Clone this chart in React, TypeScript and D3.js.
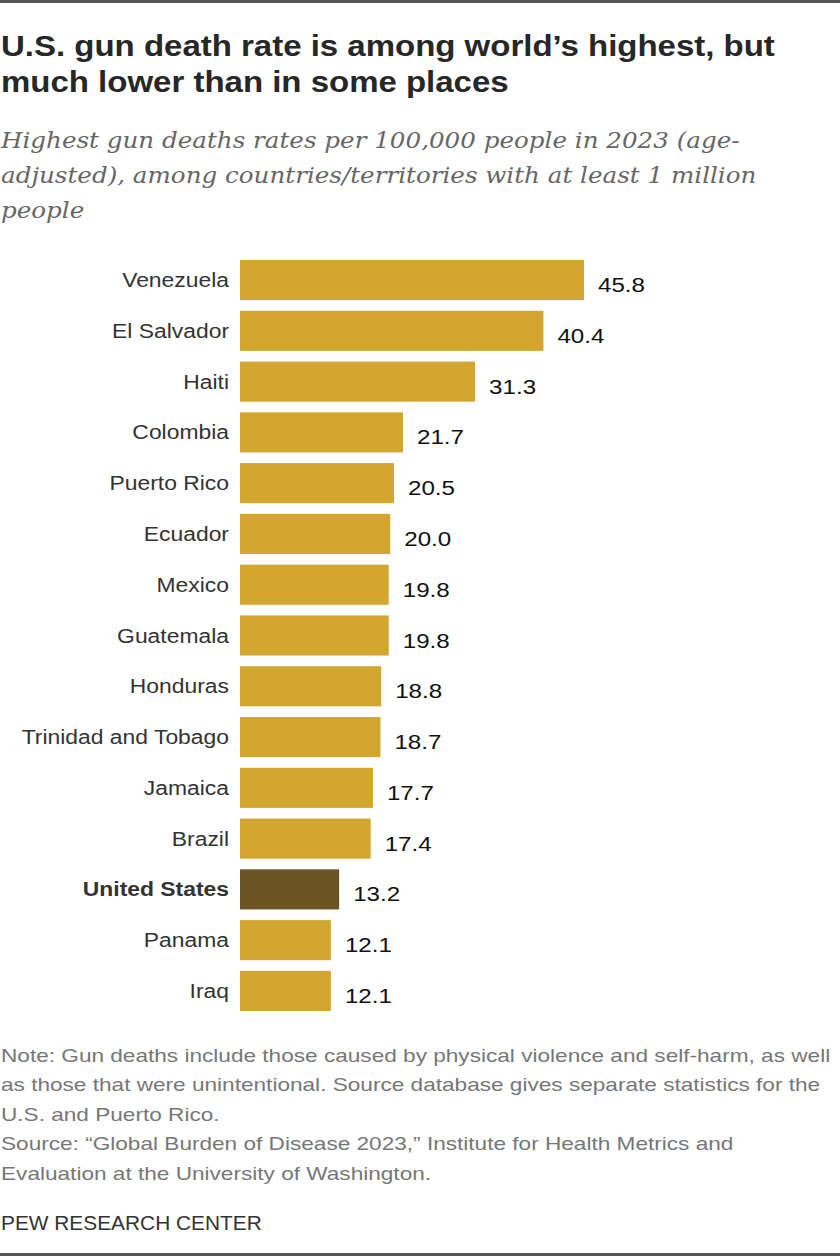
import React, { useEffect, useRef } from 'react';
import * as d3 from 'd3';

const countries = [
  'Venezuela', 'El Salvador', 'Haiti', 'Colombia', 'Puerto Rico', 'Ecuador', 'Mexico',
  'Guatemala', 'Honduras', 'Trinidad and Tobago', 'Jamaica', 'Brazil', 'United States',
  'Panama', 'Iraq',
];
const rates = [45.8, 40.4, 31.3, 21.7, 20.5, 20.0, 19.8, 19.8, 18.8, 18.7, 17.7, 17.4, 13.2, 12.1, 12.1];
const highlight = 'United States';

const titleLines = [
  'U.S. gun death rate is among world\u2019s highest, but',
  'much lower than in some places',
];
const subtitleLines = [
  'Highest gun deaths rates per 100,000 people in 2023 (age-',
  'adjusted), among countries/territories with at least 1 million',
  'people',
];
const noteLines = [
  'Note: Gun deaths include those caused by physical violence and self-harm, as well',
  'as those that were unintentional. Source database gives separate statistics for the',
  'U.S. and Puerto Rico.',
  'Source: \u201cGlobal Burden of Disease 2023,\u201d Institute for Health Metrics and',
  'Evaluation at the University of Washington.',
];

const W = 840;
const H = 1256;
const SANS = '"Liberation Sans", Arial, sans-serif';

const App = () => {
  const svgRef = useRef<SVGSVGElement>(null);

  useEffect(() => {
    const svg = d3.select(svgRef.current);
    svg.selectAll('*').remove();

    // frame lines top and bottom
    svg.append('rect').attr('x', 0).attr('y', 0).attr('width', W).attr('height', 3).attr('fill', '#555');
    svg.append('rect').attr('x', 0).attr('y', H - 3).attr('width', W).attr('height', 3).attr('fill', '#555');

    // the original fonts are wider than Liberation, so texts get stretched a bit
    svg.append('g')
      .attr('transform', 'translate(1,0) scale(1.1,1)')
      .selectAll('text')
      .data(titleLines)
      .enter().append('text')
      .attr('x', 0)
      .attr('y', (d, i) => 56 + i * 36)
      .attr('font-family', SANS)
      .attr('font-weight', 'bold')
      .attr('font-size', 30)
      .attr('fill', '#272727')
      .text(d => d);

    svg.append('g')
      .attr('transform', 'translate(1,0) scale(1.07,1)')
      .selectAll('text')
      .data(subtitleLines)
      .enter().append('text')
      .attr('x', 0)
      .attr('y', (d, i) => 148 + i * 35)
      .attr('font-family', '"DejaVu Serif", Georgia, serif')
      .attr('font-style', 'italic')
      .attr('font-size', 23)
      .attr('fill', '#666')
      .text(d => d);

    const x = d3.scaleLinear().domain([0, 45.8]).range([240, 584]);
    const y = d3.scaleBand<string>()
      .domain(countries)
      .range([260, 1011])
      .paddingInner(0.21)
      .paddingOuter(0);

    const rows = svg.append('g')
      .selectAll('g')
      .data(countries.map((c, i) => ({ c, v: rates[i] })))
      .enter().append('g');

    rows.append('rect')
      .attr('x', x(0))
      .attr('y', d => y(d.c)!)
      .attr('width', d => x(d.v) - x(0))
      .attr('height', y.bandwidth())
      .attr('fill', d => (d.c === highlight ? '#6b5323' : '#d2a62f'));

    rows.append('text')
      .attr('transform', d => `translate(229,${y(d.c)! + y.bandwidth() / 2 + 7}) scale(1.09,1)`)
      .attr('text-anchor', 'end')
      .attr('font-family', SANS)
      .attr('font-size', 21)
      .attr('font-weight', d => (d.c === highlight ? 'bold' : 'normal'))
      .attr('fill', '#333')
      .text(d => d.c);

    rows.append('text')
      .attr('transform', d => `translate(${x(d.v) + 14},${y(d.c)! + y.bandwidth() / 2 + 12}) scale(1.15,1)`)
      .attr('font-family', SANS)
      .attr('font-size', 21)
      .attr('fill', '#111')
      .text(d => d.v.toFixed(1));

    svg.append('g')
      .attr('transform', 'translate(1,0) scale(1.19,1)')
      .selectAll('text')
      .data(noteLines)
      .enter().append('text')
      .attr('x', 0)
      .attr('y', (d, i) => 1062 + i * 29.5)
      .attr('font-family', SANS)
      .attr('font-size', 19)
      .attr('fill', '#777')
      .text(d => d);

    svg.append('text')
      .attr('transform', 'translate(1,1230) scale(1.07,1)')
      .attr('font-family', SANS)
      .attr('font-size', 19.5)
      .attr('fill', '#333')
      .text('PEW RESEARCH CENTER');
  }, []);

  return (
    <svg
      ref={svgRef}
      width={W}
      height={H}
      style={{ position: 'absolute', left: 0, top: 0, background: '#fff' }}
    />
  );
};

export default App;
